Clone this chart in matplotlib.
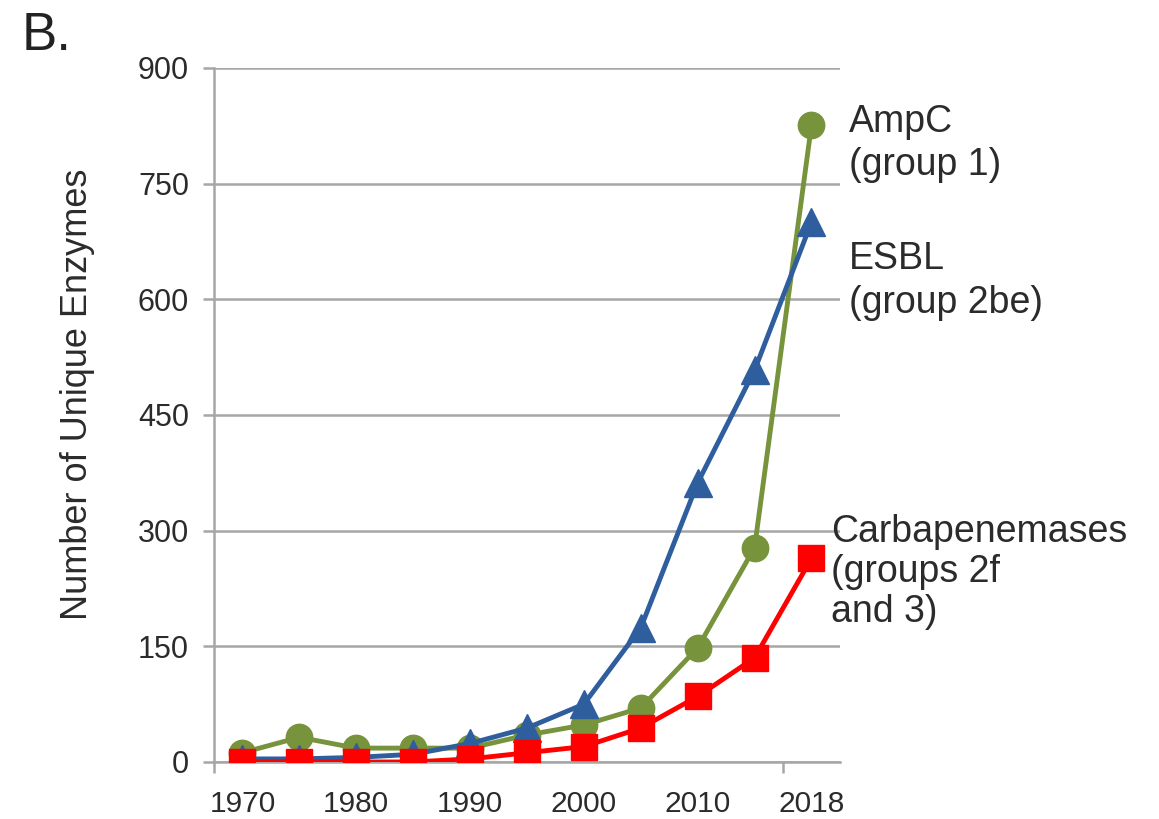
import matplotlib.pyplot as plt
import numpy as np

plt.rcParams['font.family'] = ['Liberation Sans', 'DejaVu Sans']

# categories (equally spaced, Excel-style category axis)
years = ['1970', '1975', '1980', '1985', '1990', '1995', '2000', '2005', '2010', '2015', '2018']
ampc = [12, 32, 18, 18, 18, 35, 48, 70, 148, 278, 826]
esbl = [4, 4, 6, 10, 24, 44, 75, 174, 362, 508, 700]
carba = [0, 0, 0, 0, 4, 12, 20, 44, 85, 135, 264]

tick_years = ['1970', '1980', '1990', '2000', '2010', '2018']

green = '#77933C'
blue = '#2E5E9E'
red = '#FF0000'
grid_col = '#A6A6A6'
txt_col = '#2B2B2B'

fig = plt.figure(figsize=(11.59, 8.19), dpi=100)
ax = fig.add_axes([0.1846, 0.0696, 0.5401, 0.8474])

x = np.arange(len(years))
ax.plot(x, ampc, color=green, lw=3.5, marker='o', ms=19, mec=green, zorder=3)
ax.plot(x, esbl, color=blue, lw=3.5, marker='^', ms=20, mec=blue, zorder=4)
ax.plot(x, carba, color=red, lw=3.5, marker='s', ms=19, mec=red, zorder=5)

ax.set_xlim(-0.5, 10.5)
ax.set_ylim(0, 900)
ax.set_yticks(np.arange(0, 901, 150))
ax.set_xticks([years.index(t) for t in tick_years])
ax.set_xticklabels(tick_years)
ax.set_xticks([-0.5, 9.5], minor=True)

ax.yaxis.grid(True, color=grid_col, lw=1.8)
ax.set_axisbelow(True)
for s in ['top', 'right']:
    ax.spines[s].set_visible(False)
for s in ['left', 'bottom']:
    ax.spines[s].set_color(grid_col)
    ax.spines[s].set_linewidth(1.8)

ax.tick_params(axis='y', length=8, width=1.8, color=grid_col, labelsize=22,
               labelcolor=txt_col, pad=10)
ax.tick_params(axis='x', which='major', length=0, labelsize=21.5,
               labelcolor=txt_col, pad=20)
ax.tick_params(axis='x', which='minor', length=8, width=1.8, color=grid_col)

ax.set_ylabel('Number of Unique Enzymes', fontsize=26, color=txt_col)
ax.yaxis.set_label_coords(-0.19, 0.53)

def fx(px):
    return px / 1159

def fy(py):
    return 1 - py / 819

# va='baseline' on multi-line text anchors the last line's baseline
fig.text(fx(22), fy(50), 'B.', fontsize=38, color='#222222', va='baseline')
fig.text(fx(849), fy(175), 'AmpC\n(group 1)', fontsize=27, color=txt_col,
         va='baseline', linespacing=1.25)
fig.text(fx(849), fy(313), 'ESBL\n(group 2be)', fontsize=27, color=txt_col,
         va='baseline', linespacing=1.3)
fig.text(fx(831), fy(622), 'Carbapenemases\n(groups 2f\nand 3)', fontsize=27,
         color=txt_col, va='baseline', linespacing=1.15)

fig.savefig('out.png', dpi=100)
